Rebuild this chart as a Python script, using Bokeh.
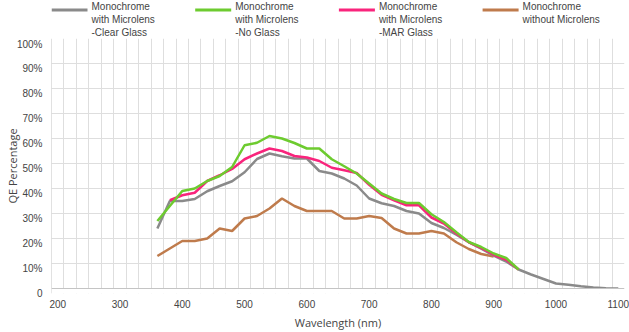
from bokeh.plotting import figure
from bokeh.layouts import column
from bokeh.models import Range1d, LinearAxis, FixedTicker, Span, BoxAnnotation
from bokeh.core.properties import value
from bokeh.embed import file_html
from bokeh.resources import INLINE

# ---------------- data ----------------
wl_clear = [360, 380, 400, 420, 440, 460, 480, 500, 520, 540, 560, 580, 600, 620, 640,
            660, 680, 700, 720, 740, 760, 780, 800, 820, 840, 860, 880, 900, 920, 940,
            960, 980, 1000, 1020, 1040, 1060, 1080, 1100]
qe_clear = [24.0, 35.0, 35.0, 35.8, 38.9, 41.0, 42.9, 46.5, 51.8, 54.0, 52.9, 52.0, 52.0,
            47.0, 46.0, 44.0, 41.2, 36.0, 34.1, 33.0, 31.0, 30.0, 26.2, 24.2, 21.5, 18.5,
            15.9, 13.2, 10.8, 7.6, 5.6, 3.8, 2.0, 1.5, 0.9, 0.4, 0.1, 0.0]

wl_noglass = [360, 380, 400, 420, 440, 460, 480, 500, 520, 540, 560, 580, 600, 620, 640,
              660, 680, 700, 720, 740, 760, 780, 800, 820, 840, 860, 880, 900, 920, 940]
qe_noglass = [27.0, 33.0, 39.0, 40.0, 43.0, 45.0, 48.6, 57.3, 58.3, 61.0, 60.0, 58.2, 56.0,
              56.0, 51.7, 48.9, 46.0, 42.0, 38.0, 35.8, 34.2, 34.2, 29.7, 26.6, 22.5, 18.6,
              16.6, 14.0, 12.2, 7.6]

wl_mar = [380, 400, 420, 440, 460, 480, 500, 520, 540, 560, 580, 600, 620, 640,
          660, 680, 700, 720, 740, 760, 780, 800, 820, 840, 860, 880, 900, 920, 940]
qe_mar = [35.3, 37.3, 38.3, 43.0, 45.3, 47.8, 51.7, 54.0, 56.0, 55.0, 53.0, 52.4, 51.0,
          48.3, 47.3, 46.2, 41.5, 37.5, 35.3, 33.3, 33.3, 28.4, 26.0, 22.0, 18.5, 16.2,
          13.5, 11.5, 7.6]

wl_nomicro = [360, 380, 400, 420, 440, 460, 480, 500, 520, 540, 560, 580, 600, 620, 640,
              660, 680, 700, 720, 740, 760, 780, 800, 820, 840, 860, 880, 900]
qe_nomicro = [13.0, 16.0, 19.0, 19.0, 20.0, 24.0, 23.0, 28.0, 29.0, 32.0, 36.0, 33.0, 31.0,
              31.0, 31.0, 28.0, 28.0, 29.0, 28.2, 24.0, 22.0, 22.0, 23.0, 22.0, 18.5, 15.8,
              13.8, 12.8]

legend_labels = ["Monochrome\nwith Microlens\n-Clear Glass",
                 "Monochrome\nwith Microlens\n-No Glass",
                 "Monochrome\nwith Microlens\n-MAR Glass",
                 "Monochrome\nwithout Microlens"]
colors = ["#8a8a8a", "#6dcb2f", "#f9247c", "#bf7b4c"]

x_ticks = [200, 300, 400, 500, 600, 700, 800, 900, 1000, 1100]
y_ticks = [0, 10, 20, 30, 40, 50, 60, 70, 80, 90, 100]
y_tick_labels = {0: "0", 10: "10%", 20: "20%", 30: "30%", 40: "40%", 50: "50%",
                 60: "60%", 70: "70%", 80: "80%", 90: "90%", 100: "100%"}

GRID = "#dedede"
AXIS = "#c4c4c4"
TXT = "#444444"
TICK_FONT = "Liberation Sans"
TITLE_FONT = "Open Sans"
W = 629
LEG_H = 38
FL, FR = 51, 624          # frame left / right in page pixels
X0, X1 = 190, 1110        # wavelength range covered by the frame

# ---------------- legend strip (top) ----------------
lg = figure(width=W, height=LEG_H, output_backend="svg", toolbar_location=None,
            x_range=Range1d(FL, FR), y_range=Range1d(LEG_H, 0),
            x_axis_location=None, y_axis_location=None,
            min_border_left=FL, min_border_right=W - FR, min_border_top=0, min_border_bottom=0)
lg.outline_line_color = None
lg.xgrid.visible = False
lg.ygrid.visible = False
PITCH = 143.7
sw_x0 = [FL + i * PITCH for i in range(len(colors))]
lg.segment(x0=sw_x0, x1=[x + 36 for x in sw_x0], y0=[9.5] * 4, y1=[9.5] * 4,
           line_color=colors, line_width=3)
lg.text(x=[x + 40 for x in sw_x0], y=[0.5] * 4, text=legend_labels,
        text_font=value(TICK_FONT), text_font_size="10px", text_color=TXT,
        text_align="left", text_baseline="top", text_line_height=1.2)

# ---------------- chart ----------------
p = figure(width=W, height=332 - LEG_H, output_backend="svg", toolbar_location=None,
           x_range=Range1d(X0, X1), y_range=Range1d(-2, 100), y_axis_location=None,
           min_border_left=FL, min_border_right=W - FR, min_border_top=0, min_border_bottom=39)
p.outline_line_color = None
p.background_fill_color = "white"
p.border_fill_color = "white"

# grid
p.xgrid.ticker = FixedTicker(ticks=list(range(X0, X1 + 1, 20)))
p.xgrid.grid_line_color = GRID
p.ygrid.ticker = FixedTicker(ticks=y_ticks[1:-1])
p.ygrid.grid_line_color = GRID

# x axis (labels only; the axis rule is drawn at 0 below)
xa = p.xaxis[0]
xa.ticker = FixedTicker(ticks=x_ticks)
xa.axis_line_color = None
xa.major_tick_line_color = None
xa.minor_tick_line_color = None
xa.major_tick_out = 0
xa.major_tick_in = 0
xa.major_label_standoff = 6
xa.major_label_text_font = TICK_FONT
xa.major_label_text_font_size = "10px"
xa.major_label_text_color = TXT
xa.axis_label = "Wavelength (nm)"
xa.axis_label_text_font = TITLE_FONT
xa.axis_label_text_font_size = "11px"
xa.axis_label_text_font_style = "normal"
xa.axis_label_text_color = TXT
xa.axis_label_text_line_height = 1.0
xa.axis_label_standoff = 4

# y labels sit a few pixels below their gridlines, as in the reference
p.extra_y_ranges = {"labels": Range1d(0, 102)}
la = LinearAxis(y_range_name="labels", ticker=FixedTicker(ticks=y_ticks),
                major_label_overrides=y_tick_labels)
la.axis_line_color = None
la.major_tick_line_color = None
la.minor_tick_line_color = None
la.major_tick_out = 0
la.major_tick_in = 0
la.major_label_standoff = 9
la.major_label_text_font = TICK_FONT
la.major_label_text_font_size = "10px"
la.major_label_text_color = TXT
la.axis_label = "QE Percentage"
la.axis_label_text_font = TITLE_FONT
la.axis_label_text_font_size = "11px"
la.axis_label_text_font_style = "normal"
la.axis_label_text_color = TXT
la.axis_label_text_line_height = 1.0
la.axis_label_standoff = -6
p.add_layout(la, "left")

# axis rules: left edge and the 0 % line; hide grid stubs below 0 %
p.add_layout(Span(location=X0, dimension="height", line_color=AXIS, line_width=1))
p.add_layout(BoxAnnotation(top=0, fill_color="white", fill_alpha=1.0, line_color=None))
p.add_layout(Span(location=0, dimension="width", line_color=AXIS, line_width=1))

# series
LW = 2.5
p.line(wl_nomicro, qe_nomicro, color=colors[3], line_width=LW)
p.line(wl_clear, qe_clear, color=colors[0], line_width=LW)
p.line(wl_mar, qe_mar, color=colors[2], line_width=LW)
p.line(wl_noglass, qe_noglass, color=colors[1], line_width=LW)

layout = column(lg, p, spacing=0)
open("out.html", "w").write(file_html(layout, INLINE))
